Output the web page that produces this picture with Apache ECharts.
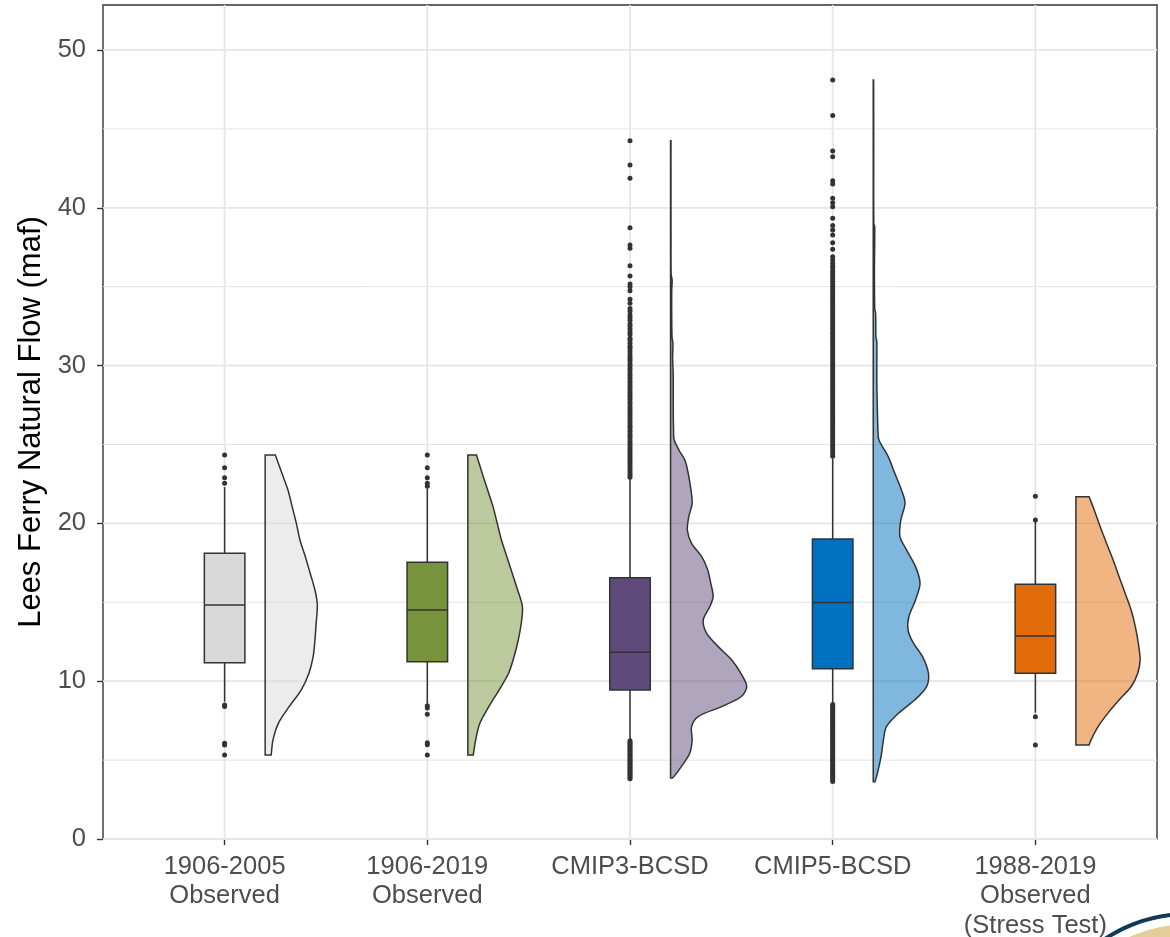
<!DOCTYPE html>
<html>
<head>
<meta charset="utf-8">
<title>Lees Ferry Natural Flow</title>
<script src="https://cdn.jsdelivr.net/npm/echarts@6/dist/echarts.min.js"></script>
<style>
  html, body { margin: 0; padding: 0; background: #ffffff; }
  #chart { width: 1170px; height: 937px; }
</style>
</head>
<body>
<div id="chart"></div>
<script>
// ---- data -------------------------------------------------------------
const CATEGORIES = [
  '1906-2005\nObserved',
  '1906-2019\nObserved',
  'CMIP3-BCSD',
  'CMIP5-BCSD',
  '1988-2019\nObserved\n(Stress Test)'
];
const Y_TICKS = [0, 10, 20, 30, 40, 50];
const Y_MINOR = [5, 15, 25, 35, 45];

// box statistics (maf)
const WHISKER_LOW  = [8.7, 8.6, 6.3, 8.6, 8.0];
const Q1           = [11.17, 11.24, 9.44, 10.79, 10.5];
const MEDIAN       = [14.83, 14.51, 11.83, 14.98, 12.86];
const Q3           = [18.1, 17.53, 16.56, 19.01, 16.14];
const WHISKER_HIGH = [22.3, 22.2, 22.8, 24.1, 20.2];

// points beyond the whiskers (maf)
const OUTLIERS_1906_2005 = [24.33, 23.53, 22.9, 22.55, 8.49, 8.4, 6.06, 5.95, 5.32];
const OUTLIERS_1906_2019 = [24.33, 23.53, 22.9, 22.55, 22.35, 8.45, 8.3, 7.9, 6.1, 5.98, 5.32];
const OUTLIERS_CMIP3 = [
  44.25, 42.71, 41.87, 38.74, 37.64, 37.43, 36.33, 35.68, 35.17, 35.0, 34.75, 34.2, 33.95,
  33.62, 33.45, 33.21, 33.05, 32.88, 32.64, 32.5, 32.31, 32.12, 31.97, 31.74, 31.6, 31.41,
  31.22, 31.1, 30.93, 30.75, 30.58, 30.44, 30.3, 30.12, 29.98, 29.81, 29.66, 29.49, 29.35,
  29.2, 29.03, 28.9, 28.74, 28.61, 28.45, 28.3, 28.14, 28.01, 27.86, 27.7, 27.57, 27.41,
  27.27, 27.1, 26.96, 26.82, 26.67, 26.51, 26.38, 26.22, 26.09, 25.93, 25.8, 25.64, 25.5,
  25.36, 25.2, 25.07, 24.92, 24.78, 24.63, 24.49, 24.35, 24.2, 24.06, 23.92, 23.78, 23.63,
  23.49, 23.35, 23.2, 23.06, 22.93,
  6.22, 6.12, 6.03, 5.94, 5.85, 5.75, 5.66, 5.57, 5.47, 5.38, 5.29, 5.2, 5.1, 5.01, 4.92,
  4.82, 4.73, 4.64, 4.55, 4.45, 4.36, 4.27, 4.17, 4.08, 3.99, 3.9, 3.82
];
const OUTLIERS_CMIP5 = [
  48.1, 45.84, 43.6, 43.24, 41.72, 41.5, 40.6, 40.32, 40.07, 39.33, 38.87, 38.59, 38.28,
  37.79, 37.37, 36.9, 36.69, 36.48, 36.3, 36.14, 35.97, 35.8, 35.66, 35.49, 35.33, 35.15,
  35.0, 34.84, 34.67, 34.52, 34.36, 34.2, 34.03, 33.88, 33.72, 33.55, 33.4, 33.24, 33.08,
  32.92, 32.76, 32.6, 32.44, 32.28, 32.12, 31.97, 31.8, 31.65, 31.49, 31.33, 31.17, 31.01,
  30.86, 30.7, 30.54, 30.38, 30.22, 30.07, 29.91, 29.75, 29.6, 29.44, 29.28, 29.12, 28.97,
  28.81, 28.65, 28.5, 28.34, 28.18, 28.02, 27.87, 27.71, 27.55, 27.4, 27.24, 27.08, 26.93,
  26.77, 26.61, 26.46, 26.3, 26.14, 25.99, 25.83, 25.67, 25.52, 25.36, 25.2, 25.05, 24.89,
  24.73, 24.58, 24.42, 24.26,
  8.52, 8.42, 8.31, 8.2, 8.1, 7.99, 7.88, 7.78, 7.67, 7.57, 7.46, 7.35, 7.25, 7.14, 7.04,
  6.93, 6.82, 6.72, 6.61, 6.51, 6.4, 6.29, 6.19, 6.08, 5.98, 5.87, 5.76, 5.66, 5.55, 5.45,
  5.34, 5.23, 5.13, 5.02, 4.92, 4.81, 4.7, 4.6, 4.49, 4.39, 4.28, 4.17, 4.07, 3.96, 3.86,
  3.75, 3.64
];
const OUTLIERS_1988_2019 = [21.72, 20.22, 7.75, 5.96];

// kernel density profiles: [flow (maf), density]
const DENSITY_1906_2005 = [
  [24.33, 0.017], [23.17, 0.028], [22.12, 0.038], [21.06, 0.045], [20.0, 0.052],
  [18.95, 0.058], [17.89, 0.067], [16.84, 0.075], [15.78, 0.083], [14.83, 0.087],
  [13.67, 0.085], [12.61, 0.083], [11.55, 0.080], [10.5, 0.073], [9.44, 0.060],
  [8.39, 0.040], [7.33, 0.022], [6.27, 0.013], [5.32, 0.010]
];
const DENSITY_1906_2019 = [
  [24.33, 0.0145], [23.17, 0.024], [22.12, 0.033], [21.06, 0.042], [20.0, 0.049],
  [18.95, 0.056], [17.89, 0.065], [16.84, 0.074], [15.78, 0.083], [14.72, 0.091],
  [13.67, 0.089], [12.61, 0.084], [11.55, 0.077], [10.5, 0.068], [9.44, 0.052],
  [8.39, 0.035], [7.33, 0.020], [6.27, 0.013], [5.32, 0.009]
];
const DENSITY_CMIP3 = [
  [44.25, 0.0007], [41.0, 0.0007], [38.0, 0.0008], [35.8, 0.001], [35.4, 0.0027],
  [34.8, 0.002], [33.0, 0.002], [31.8, 0.0025], [31.4, 0.004], [30.5, 0.0035],
  [29.3, 0.0045], [27.5, 0.0045], [26.0, 0.005], [25.3, 0.006], [24.65, 0.014],
  [24.0, 0.024], [23.17, 0.0295], [22.12, 0.034], [21.27, 0.036], [20.43, 0.0305],
  [19.58, 0.028], [18.74, 0.035], [17.89, 0.052], [17.05, 0.062], [16.21, 0.067],
  [15.36, 0.071], [14.73, 0.0655], [13.88, 0.0545], [13.04, 0.06], [12.19, 0.0795],
  [11.35, 0.102], [10.51, 0.117], [9.66, 0.127], [9.03, 0.118], [8.39, 0.085],
  [7.76, 0.046], [7.12, 0.035], [6.27, 0.036], [5.43, 0.032], [4.59, 0.018],
  [3.97, 0.006], [3.86, 0.003]
];
const DENSITY_CMIP5 = [
  [48.1, 0.0007], [44.0, 0.0008], [39.0, 0.001], [38.8, 0.0025], [36.0, 0.002],
  [33.6, 0.0025], [33.3, 0.004], [31.8, 0.0045], [31.5, 0.006], [29.0, 0.006],
  [27.0, 0.007], [25.8, 0.008], [25.29, 0.0095], [24.23, 0.025], [23.17, 0.036],
  [22.12, 0.047], [21.27, 0.053], [20.22, 0.046], [19.16, 0.0445], [18.32, 0.0555],
  [17.26, 0.0705], [16.21, 0.078], [15.15, 0.0705], [14.1, 0.0595], [13.26, 0.058],
  [12.41, 0.067], [11.57, 0.082], [10.51, 0.092], [9.66, 0.089], [8.82, 0.0695],
  [7.97, 0.042], [7.12, 0.022], [6.27, 0.017], [5.22, 0.013], [4.16, 0.007], [3.63, 0.003]
];
const DENSITY_1988_2019 = [
  [21.69, 0.022], [20.85, 0.0305], [19.79, 0.0405], [18.74, 0.051], [17.68, 0.062],
  [16.62, 0.072], [15.57, 0.082], [14.51, 0.092], [13.46, 0.099], [12.4, 0.104],
  [11.34, 0.107], [10.5, 0.103], [9.65, 0.092], [8.81, 0.072], [7.96, 0.053],
  [7.12, 0.037], [6.27, 0.025], [5.96, 0.022]
];

// ---- styling ----------------------------------------------------------
const FONT = "'Liberation Sans', Arial, Helvetica, sans-serif";
const BOX_COLORS = ['#d9d9d9', '#77933c', '#5f4b7b', '#0070c0', '#e36c0a'];
const OUTLINE = '#333333';
const BOX_HALF = 0.1;        // half box width, in category units
const VIOLIN_OFFSET = 0.2;   // gap between box centre and violin base
const VIOLIN_SCALE = 2.96;   // density -> category units

const OUTLIERS = [OUTLIERS_1906_2005, OUTLIERS_1906_2019, OUTLIERS_CMIP3, OUTLIERS_CMIP5, OUTLIERS_1988_2019];
const DENSITIES = [DENSITY_1906_2005, DENSITY_1906_2019, DENSITY_CMIP3, DENSITY_CMIP5, DENSITY_1988_2019];
const CAT_POS = CATEGORIES.map((_, i) => i);

// ---- series -----------------------------------------------------------
// panel grid lines
const gridSeries = {
  type: 'custom',
  silent: true,
  z: 1,
  data: [[0, 0]],
  renderItem: function (params, api) {
    const cs = params.coordSys;
    const children = [];
    Y_MINOR.forEach(v => {
      const p = api.coord([0, v]);
      children.push({ type: 'line', shape: { x1: cs.x, y1: p[1], x2: cs.x + cs.width, y2: p[1] },
        style: { stroke: '#e3e3e3', lineWidth: 1 } });
    });
    Y_TICKS.forEach(v => {
      const p = api.coord([0, v]);
      children.push({ type: 'line', shape: { x1: cs.x, y1: p[1], x2: cs.x + cs.width, y2: p[1] },
        style: { stroke: '#e6e6e6', lineWidth: 1.8 } });
    });
    CAT_POS.forEach(v => {
      const p = api.coord([v, 0]);
      children.push({ type: 'line', shape: { x1: p[0], y1: cs.y, x2: p[0], y2: cs.y + cs.height },
        style: { stroke: '#e6e6e6', lineWidth: 1.8 } });
    });
    return { type: 'group', children: children };
  }
};

// half violins to the right of each box
function withCorner(arr, p) { arr.push(p, p.slice()); }
const violinSeries = {
  type: 'custom',
  silent: true,
  z: 2,
  data: CAT_POS.map(i => [i, 0]),
  renderItem: function (params, api) {
    const i = params.dataIndex;
    const prof = DENSITIES[i];
    const base = i + VIOLIN_OFFSET;
    const top = prof[0][0];
    const bottom = prof[prof.length - 1][0];
    const pts = [];
    withCorner(pts, api.coord([base, top]));
    prof.forEach((row, k) => {
      const p = api.coord([base + row[1] * VIOLIN_SCALE, row[0]]);
      if (k === 0 || k === prof.length - 1) withCorner(pts, p); else pts.push(p);
    });
    withCorner(pts, api.coord([base, bottom]));
    return {
      type: 'polygon',
      shape: { points: pts, smooth: 0.3 },
      style: { fill: BOX_COLORS[i], fillOpacity: 0.5, stroke: OUTLINE, lineWidth: 1.5 }
    };
  }
};

// box & whiskers
const boxSeries = {
  type: 'custom',
  silent: true,
  z: 3,
  encode: { x: 0, y: [1, 2, 3, 4, 5] },
  data: CAT_POS.map(i => [i, WHISKER_LOW[i], Q1[i], MEDIAN[i], Q3[i], WHISKER_HIGH[i]]),
  renderItem: function (params, api) {
    const i = api.value(0);
    const lo = api.coord([i, api.value(1)]);
    const q1 = api.coord([i, api.value(2)]);
    const md = api.coord([i, api.value(3)]);
    const q3 = api.coord([i, api.value(4)]);
    const hi = api.coord([i, api.value(5)]);
    const hw = api.size([BOX_HALF, 0])[0];
    const line = { stroke: OUTLINE, lineWidth: 1.5 };
    return {
      type: 'group',
      children: [
        { type: 'line', shape: { x1: lo[0], y1: lo[1], x2: q1[0], y2: q1[1] }, style: line },
        { type: 'line', shape: { x1: q3[0], y1: q3[1], x2: hi[0], y2: hi[1] }, style: line },
        { type: 'rect', shape: { x: q3[0] - hw, y: q3[1], width: hw * 2, height: q1[1] - q3[1] },
          style: { fill: BOX_COLORS[i], stroke: OUTLINE, lineWidth: 1.5 } },
        { type: 'line', shape: { x1: md[0] - hw, y1: md[1], x2: md[0] + hw, y2: md[1] }, style: line }
      ]
    };
  }
};

const outlierData = [];
OUTLIERS.forEach((arr, i) => arr.forEach(v => outlierData.push([i, v])));
const outlierSeries = {
  type: 'scatter',
  silent: true,
  z: 4,
  symbol: 'circle',
  symbolSize: 5,
  itemStyle: { color: OUTLINE, opacity: 1 },
  data: outlierData
};

// ---- chart ------------------------------------------------------------
const chart = echarts.init(document.getElementById('chart'), null, { renderer: 'canvas' });
chart.setOption({
  animation: false,
  backgroundColor: '#ffffff',
  grid: {
    left: 103, right: 13, top: 5, bottom: 98,
    containLabel: false, outerBoundsMode: 'none',
    show: true, borderColor: OUTLINE, borderWidth: 1.4, backgroundColor: 'transparent'
  },
  xAxis: {
    type: 'value', min: -0.6, max: 4.6,
    splitLine: { show: false },
    axisLine: { show: false, onZero: false },
    axisTick: { show: true, customValues: CAT_POS, length: 6, lineStyle: { color: OUTLINE, width: 1.4 } },
    axisLabel: {
      customValues: CAT_POS,
      formatter: v => CATEGORIES[Math.round(v)],
      fontFamily: FONT, fontSize: 25.5, lineHeight: 29.5, color: '#4d4d4d', margin: 13
    }
  },
  yAxis: {
    type: 'value', min: 0, max: 52.85,
    name: 'Lees Ferry Natural Flow (maf)',
    nameLocation: 'middle', nameGap: 50,
    nameTextStyle: { fontFamily: FONT, fontSize: 31, color: '#000000' },
    splitLine: { show: false },
    axisLine: { show: false, onZero: false },
    axisTick: { show: true, customValues: Y_TICKS, length: 6, lineStyle: { color: OUTLINE, width: 1.4 } },
    axisLabel: { customValues: Y_TICKS, fontFamily: FONT, fontSize: 25.5, color: '#4d4d4d', margin: 17 }
  },
  graphic: [
    { type: 'circle', silent: true, shape: { cx: 1186.7, cy: 1060.4, r: 136 }, style: { fill: '#e5cd98' } },
    { type: 'circle', silent: true, shape: { cx: 1186.7, cy: 1060.4, r: 146.4 }, style: { fill: null, stroke: '#0e3a56', lineWidth: 4 } }
  ],
  series: [gridSeries, violinSeries, boxSeries, outlierSeries]
});
</script>
</body>
</html>
